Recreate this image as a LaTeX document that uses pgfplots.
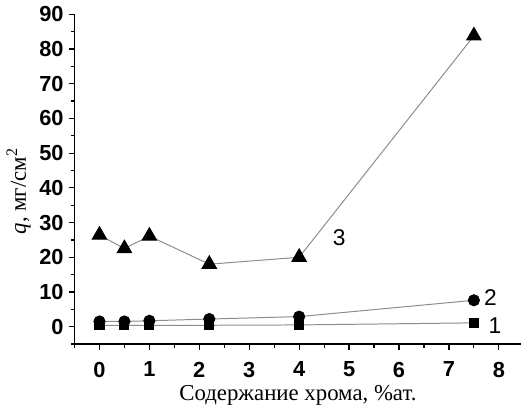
\documentclass[border=0pt]{standalone}
\usepackage{pgfplots}
\pgfplotsset{compat=1.18}
\usepackage{fontspec}
\setmainfont{Liberation Serif}
\newfontfamily\arial{Liberation Sans}
\definecolor{linegray}{RGB}{140,140,140}

\begin{document}
\begin{tikzpicture}
\begin{axis}[
  scale only axis,
  width=225.5pt, height=166.4pt,
  xmin=-0.5, xmax=8.45, ymin=-5, ymax=90,
  axis lines*=left,
  axis line style={line width=0.7pt},
  tick align=outside,
  major tick length=3pt, minor tick length=1.8pt,
  every tick/.style={black, line width=0.6pt},
  xtick={0,1,...,8}, ytick={0,10,...,90},
  minor xtick={-0.5,0.5,1.5,...,8},
  minor ytick={-5,5,15,...,85},
  /pgf/number format/assume math mode=true,
  ticklabel style={font=\arial\bfseries\fontsize{11}{13}\selectfont},
  xticklabel style={yshift=-2.5pt},
  yticklabel style={xshift=1pt},
  xlabel={Содержание хрома, \%ат.},
  ylabel={\textit{q}, мг/см\textsuperscript{2}},
  label style={font=\fontsize{11.5}{13}\selectfont},
  xlabel style={yshift=3pt},
  ylabel style={yshift=-2.5pt, xshift=-6pt},
  clip=false,
]
\addplot[linegray, line width=0.5pt, mark=square*, mark size=2.3pt,
  mark options={black, solid}] coordinates {
  (0,0.4)(0.5,0.4)(1,0.4)(2.2,0.4)(4,0.5)(7.5,1.1)};
\addplot[linegray, line width=0.5pt, mark=*, mark size=2.8pt,
  mark options={black, solid}] coordinates {
  (0,1.5)(0.5,1.5)(1,1.7)(2.2,2.2)(4,2.9)(7.5,7.6)};
\addplot[linegray, line width=0.5pt, mark=triangle*, mark size=4.2pt,
  mark options={black, solid}] coordinates {
  (0,26.4)(0.5,22.5)(1,26.1)(2.2,18)(4,20)(7.5,83.8)};
\node[font=\arial\fontsize{11.5}{13}\selectfont] at (axis cs:4.8,25.6) {3};
\node[font=\arial\fontsize{11.5}{13}\selectfont] at (axis cs:7.83,8.4) {2};
\node[font=\arial\fontsize{11.5}{13}\selectfont] at (axis cs:7.92,0.4) {1};
\end{axis}
\end{tikzpicture}
\end{document}
